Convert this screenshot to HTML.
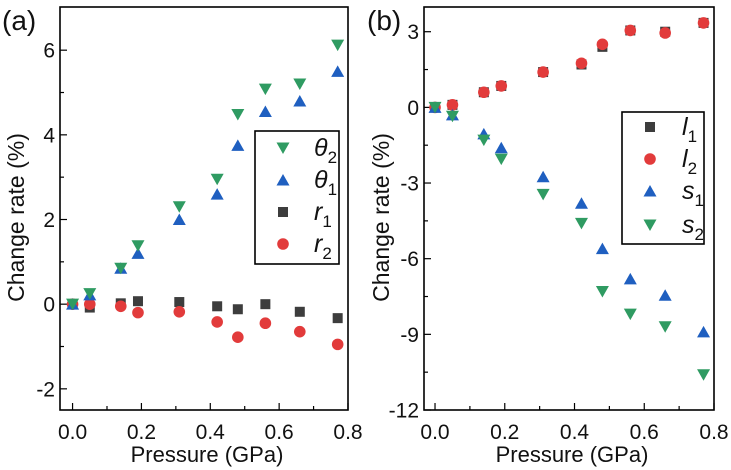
<!DOCTYPE html>
<html><head><meta charset="utf-8"><style>
body{margin:0;background:#fff;}
svg{display:block;font-family:"Liberation Sans",sans-serif;}
</style></head><body>
<svg id="c" width="731" height="470" viewBox="0 0 731 470"></svg>
<script>
const pressure=[0,0.05,0.14,0.19,0.31,0.42,0.48,0.56,0.66,0.77];
const theta2=[0,0.25,0.85,1.38,2.3,2.95,4.48,5.08,5.2,6.12];
const theta1=[0,0.22,0.85,1.2,2.0,2.6,3.75,4.55,4.8,5.5];
const r1=[0,-0.08,0.02,0.07,0.05,-0.05,-0.12,0.0,-0.18,-0.33];
const r2=[0,0.0,-0.05,-0.2,-0.18,-0.42,-0.78,-0.45,-0.65,-0.95];
const l1=[0,0.1,0.6,0.85,1.4,1.7,2.4,3.05,3.0,3.35];
const l2=[0,0.1,0.6,0.85,1.4,1.75,2.5,3.05,2.95,3.35];
const s1=[0,-0.3,-1.05,-1.6,-2.75,-3.8,-5.6,-6.8,-7.45,-8.9];
const s2=[0,-0.35,-1.3,-2.05,-3.45,-4.6,-7.3,-8.2,-8.7,-10.6];
const xTicks=[0,0.2,0.4,0.6,0.8];
const xTickLabels=["0.0","0.2","0.4","0.6","0.8"];
const yTicksA=[-2,0,2,4,6];
const yTicksB=[-12,-9,-6,-3,0,3];

const svg=document.getElementById('c');
const NS='http://www.w3.org/2000/svg';
function el(tag,attrs,parent){const e=document.createElementNS(NS,tag);for(const k in attrs)e.setAttribute(k,attrs[k]);(parent||svg).appendChild(e);return e;}
const COL={green:'#2f9b62',blue:'#1f5fc0',gray:'#3d3d3d',red:'#e23b3b'};

function marker(g,type,x,y,color){
  let m;
  if(type==='down') m=el('polygon',{points:`${x-6.5},${y-5.5} ${x+6.5},${y-5.5} ${x},${y+6}`,fill:color},g);
  else if(type==='up') m=el('polygon',{points:`${x-6.5},${y+5.5} ${x+6.5},${y+5.5} ${x},${y-6}`,fill:color},g);
  else if(type==='sq') m=el('rect',{x:x-5,y:y-5,width:10,height:10,fill:color},g);
  else m=el('circle',{cx:x,cy:y,r:5.8,fill:color},g);
  return m;
}

function panel(P){
  const g=el('g',{});
  
  
  const X=v=>P.x0+(v-P.xmin)/(P.xmax-P.xmin)*(P.x1-P.x0);
  const Y=v=>P.y1-(v-P.ymin)/(P.ymax-P.ymin)*(P.y1-P.y0);
  const L=P.x0,R=P.x1,T=P.y0,B=P.y1;
  const frame=el('rect',{x:L,y:T,width:R-L,height:B-T,fill:'none',stroke:'#000','stroke-width':1.6},g);
  
  
  for(let k=0;k<=8;k++){
    const v=k/10, major=k%2===0;
    el('line',{x1:X(v),x2:X(v),y1:B,y2:B-(major?7:4),stroke:'#000','stroke-width':1.2},g);
  }
  xTicks.forEach((v,i)=>{
    const t=el('text',{x:X(v),y:B+29,'text-anchor':'middle','font-size':21,fill:'#111'},g);
    t.textContent=xTickLabels[i];
    
    
  });
  P.yTicks.forEach(v=>{
    el('line',{x1:L,x2:L+7,y1:Y(v),y2:Y(v),stroke:'#000','stroke-width':1.2},g);
    const t=el('text',{x:L-5,y:Y(v)+7.5,'text-anchor':'end','font-size':21,fill:'#111'},g);
    t.textContent=String(v);
    
    
  });
  for(let i=0;i<P.yTicks.length-1;i++){const m=(P.yTicks[i]+P.yTicks[i+1])/2;el('line',{x1:L,x2:L+4,y1:Y(m),y2:Y(m),stroke:'#000','stroke-width':1.2},g);}
  const xt=el('text',{x:(L+R)/2+3,y:462,'text-anchor':'middle','font-size':22,fill:'#111'},g);
  xt.textContent='Pressure (GPa)';
  
  
  const yt=el('text',{x:0,y:0,'text-anchor':'middle','font-size':23,fill:'#111',transform:`translate(${P.ytx},${(T+B)/2+9}) rotate(-90)`},g);
  yt.textContent='Change rate (%)';
  
  
  const pl=el('text',{x:P.lx,y:30,'font-size':28,fill:'#111'},g);
  pl.textContent=P.label;
  
  
  P.series.forEach(s=>{
    const sg=el('g',{},g);
    
    
    s.data.forEach((v,i)=>{
      const m=marker(sg,s.type,X(pressure[i]),Y(v),s.color);
      
      
    });
  });
  const lg=el('g',{},g);
  
  
  el('rect',{x:P.leg[0],y:P.leg[1],width:P.leg[2],height:P.leg[3],fill:'#fff',stroke:'#000','stroke-width':1.6},lg);
  P.legendOrder.forEach((s,i)=>{
    const yy=P.legRows[i];
    const e=el('g',{},lg);
    
    
    marker(e,s.type,P.legMx,yy,s.color);
    const t=el('text',{x:P.legTx,y:yy+8,'font-size':25,'font-style':'italic',fill:'#111'},e);
    t.innerHTML=s.sym+'<tspan dy="7" font-size="17" font-style="normal">'+s.sub+'</tspan>';
  });
}

const sTh2={id:'theta2',type:'down',color:COL.green,data:theta2,sym:'θ',sub:'2'};
const sTh1={id:'theta1',type:'up',color:COL.blue,data:theta1,sym:'θ',sub:'1'};
const sR1={id:'r1',type:'sq',color:COL.gray,data:r1,sym:'r',sub:'1'};
const sR2={id:'r2',type:'ci',color:COL.red,data:r2,sym:'r',sub:'2'};
panel({name:'panel-a',label:'(a)',lx:2,x0:60,x1:348,y0:7,y1:410,xmin:-0.0365,xmax:0.8,ymin:-2.5,ymax:7.02,
  yTicks:yTicksA,ytx:24,series:[sR1,sR2,sTh1,sTh2],legendOrder:[sTh2,sTh1,sR1,sR2],
  leg:[255,131,84,133],legRows:[148,180,212,244],legMx:283,legTx:314});
const sL1={id:'l1',type:'sq',color:COL.gray,data:l1,sym:'l',sub:'1'};
const sL2={id:'l2',type:'ci',color:COL.red,data:l2,sym:'l',sub:'2'};
const sS1={id:'s1',type:'up',color:COL.blue,data:s1,sym:'s',sub:'1'};
const sS2={id:'s2',type:'down',color:COL.green,data:s2,sym:'s',sub:'2'};
panel({name:'panel-b',label:'(b)',lx:367,x0:424,x1:714,y0:7,y1:410,xmin:-0.0316,xmax:0.8,ymin:-12,ymax:3.98,
  yTicks:yTicksB,ytx:389,series:[sL1,sL2,sS1,sS2],legendOrder:[sL1,sL2,sS1,sS2],
  leg:[622,112,82,132],legRows:[127,159,191,225],legMx:650,legTx:682});
</script>
</body></html>
